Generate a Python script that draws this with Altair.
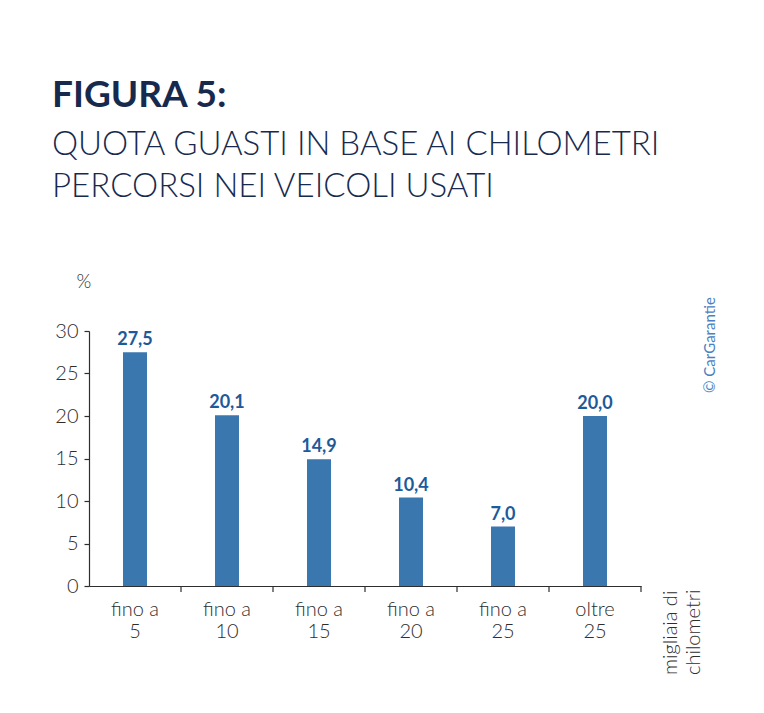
import altair as alt
import pandas as pd

categories = ["fino a 5", "fino a 10", "fino a 15", "fino a 20", "fino a 25", "oltre 25"]
values = [27.5, 20.1, 14.9, 10.4, 7.0, 20.0]
y_ticks = [0, 5, 10, 15, 20, 25, 30]

title_main = "FIGURA 5:"
title_line1 = "QUOTA GUASTI IN BASE AI CHILOMETRI"
title_line2 = "PERCORSI NEI VEICOLI USATI"
y_unit = "%"
x_unit = ["migliaia di", "chilometri"]
credit = "© CarGarantie"

df = pd.DataFrame({"cat": categories, "val": values})

NAVY = "#172a4e"
BAR = "#3b77af"
LBL = "#1d5a99"
GREY = "#2e2e2e"
FONT = "Lato"

x_enc = alt.X(
    "cat:N",
    sort=categories,
    scale=alt.Scale(paddingInner=0, paddingOuter=0),
    axis=alt.Axis(
        title=None,
        ticks=False,
        domain=True,
        domainColor=GREY,
        domainWidth=1.2,
        labelAngle=0,
        labelFont=FONT,
        labelFontWeight=300,
        labelFontSize=20,
        labelColor=GREY,
        labelPadding=13,
        labelLineHeight=22,
        labelExpr="[slice(datum.value, 0, lastindexof(datum.value, ' ')), slice(datum.value, lastindexof(datum.value, ' ') + 1)]",
    ),
)
y_enc = alt.Y(
    "val:Q",
    scale=alt.Scale(domain=[0, 30], nice=False),
    axis=alt.Axis(
        title=None,
        values=y_ticks,
        grid=False,
        domainColor=GREY,
        domainWidth=1.2,
        tickColor=GREY,
        tickSize=5,
        tickWidth=1.2,
        labelFont=FONT,
        labelFontWeight=300,
        labelFontSize=20,
        labelColor=GREY,
        labelPadding=6,
    ),
)

base = alt.Chart(df)

bars = base.mark_bar(width=24, color=BAR).encode(x=x_enc, y=y_enc)

labels = base.transform_calculate(
    lab="replace(format(datum.val, '.1f'), '.', ',')"
).mark_text(
    font=FONT, fontWeight="bold", fontSize=18, color=LBL, dy=-7, baseline="alphabetic"
).encode(x=alt.X("cat:N", sort=categories), y="val:Q", text="lab:N")

xticks = base.mark_rule(color=GREY, strokeWidth=1.2).encode(
    x=alt.X("cat:N", sort=categories, bandPosition=1),
    y=alt.value(255),
    y2=alt.value(261),
)

def note(text, x, y, size, weight=300, color=NAVY, angle=0, line_height=None, align="left"):
    kw = dict(font=FONT, fontSize=size, fontWeight=weight, color=color, align=align,
              baseline="alphabetic", angle=angle)
    if line_height:
        kw["lineHeight"] = line_height
    return alt.Chart(pd.DataFrame({"t": [0]})).mark_text(**kw).encode(
        x=alt.value(x), y=alt.value(y), text=alt.value(text)
    )

t1 = note(title_main, -37, -224, 37, weight="bold")
t2 = note(title_line1, -37, -176, 33)
t3 = note(title_line2, -37, -134, 33)
pct = note(y_unit, -5, -43, 19, color=GREY, align="center")
xu = note(x_unit, 588, 344, 20, color=GREY, angle=270, line_height=23)
cr = note(credit, 626, 62, 15, weight=400, color="#4a80bf", angle=270)

chart = alt.layer(bars, labels, xticks, t1, t2, t3, pct, xu, cr).properties(
    width=552,
    height=255,
    padding={"left": 81, "top": 323, "right": 110, "bottom": 90},
    autosize=alt.AutoSizeParams(type="none"),
    background="white",
).configure_view(stroke=None)

chart.save("out.html", embed_options={"renderer": "svg", "actions": False})
